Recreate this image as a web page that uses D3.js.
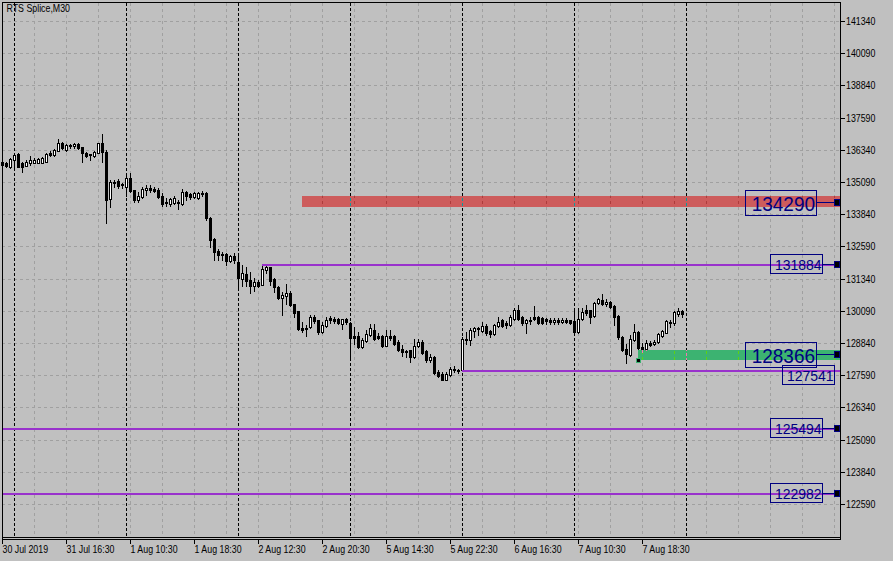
<!DOCTYPE html>
<html><head><meta charset="utf-8">
<script src="https://cdn.jsdelivr.net/npm/d3@7"></script>
<style>
html,body{margin:0;padding:0;background:#c0c0c0;overflow:hidden;}
svg{display:block;}
.ax{font-family:'Liberation Sans Narrow','Liberation Sans',Arial,sans-serif;font-size:11px;fill:#000;}
.lbl{font-family:'Liberation Sans',Arial,sans-serif;}
</style></head><body>
<svg id="c" width="893" height="561"></svg>
<script>
// ---------------- data ----------------
const chartTitle = "RTS Splice,M30";
const open = [135870,135830,135690,135950,136170,135840,135720,135820,135840,135840,135840,135880,136210,136140,136310,136590,136340,136530,136470,136570,136440,136230,136120,136080,136230,136600,136270,134420,135090,135130,135010,134910,135240,134770,134390,134500,134780,134850,134810,134780,134550,134330,134220,134260,134330,134220,134710,134620,134490,134460,134670,134670,133680,132860,132420,132290,132290,132030,132210,132000,131310,131520,131280,131050,131200,131100,131670,131780,131310,131020,130570,130660,130790,130350,130070,129440,129430,129470,129840,129720,129270,129490,129800,129760,129770,129590,129770,129630,129130,129130,128700,128920,129140,129350,129130,129130,128730,129130,129100,128880,128610,128530,128560,128290,128720,128870,128520,128170,128290,127710,127650,127420,127590,127850,127780,127780,129010,128970,129310,129440,129310,129490,129310,129180,129490,129720,129600,129530,129790,130110,129850,129620,129750,129850,129850,129800,129770,129750,129640,129750,129640,129750,129720,129700,129270,129790,130110,130110,129880,130400,130500,130370,130430,130270,129880,129080,128610,128360,128970,129270,128700,128590,128850,128820,128880,129100,129230,129660,129600,129960,130090];
const high = [135910,135870,136020,136230,136220,135870,135950,136080,136020,136040,136060,136220,136300,136370,136760,136650,136570,136570,136610,136620,136450,136260,136180,136300,136610,136960,136340,135170,135170,135200,135060,135360,135430,134780,134720,134880,134970,134970,134910,134850,134650,134460,134480,134550,134390,134810,134750,134670,134710,134700,134730,134700,133740,132910,132480,132380,132330,132250,132330,132320,131860,131780,131600,131350,131280,131880,131850,131790,131350,131050,130830,131120,130870,130370,130070,129660,129530,129920,129920,129750,129660,129850,129880,129850,129820,129790,129820,129660,129450,129280,129020,129340,129590,129590,129210,129140,129340,129340,129140,128950,128750,128560,128580,129010,129010,128950,128560,128430,128320,127780,127710,127710,127910,127930,127820,129070,129280,129420,129470,129470,129660,129590,129340,129590,129830,129790,129700,129920,130180,130310,129880,129790,129850,130270,129880,129850,129820,129820,129820,129820,129800,129800,129750,130180,130180,130180,130310,130140,130440,130570,130740,130530,130470,130310,129920,129110,128820,129140,129590,129310,128830,128950,128930,128950,129230,129360,129750,129730,130090,130180,130140];
const low = [135710,135670,135640,135620,135670,135490,135710,135750,135810,135810,135830,135850,136080,136100,136300,136370,136300,136410,136410,136370,135880,136060,135950,136060,136220,135880,133500,134120,134910,134850,134860,134550,134710,134330,134330,134460,134590,134720,134720,134460,134160,134160,134160,134230,134030,134200,134390,134420,134460,134430,134550,133610,132570,132060,132060,132080,131860,132000,131950,131030,131050,131050,130790,130860,131010,131090,131560,131090,130830,130530,129920,130370,130270,129850,129360,129270,129100,129440,129600,129180,129210,129470,129620,129620,129590,129400,129590,128170,128800,128630,128630,128860,129100,128970,129010,128690,128720,128950,128750,128530,128320,128290,128100,128270,128680,128430,128100,128100,127650,127520,127390,127390,127550,127710,127680,127760,128800,128760,129080,129160,129270,129160,129080,129160,129470,129470,129440,129490,129750,129750,129530,129230,129590,129750,129590,129590,129590,129590,129590,129590,129610,129610,129570,129200,129230,129750,129920,129620,129850,130370,130310,130270,130180,129530,129010,128530,128070,128320,128920,128590,128500,128560,128710,128750,128850,129070,129210,129470,129530,129880,129830];
const close = [135750,135710,135970,136140,135690,135690,135880,135950,135950,135990,136010,136170,136150,136340,136600,136410,136530,136480,136570,136400,136230,136100,136160,136270,136600,136250,134390,135100,135050,134940,134970,135240,134730,134390,134550,134810,134850,134780,134750,134520,134220,134270,134420,134460,134270,134710,134550,134490,134670,134650,134610,133680,132840,132380,132250,132240,132030,132210,132060,131350,131540,131250,131050,131200,131050,131700,131790,131250,131000,130570,130700,130790,130310,130010,129380,129340,129390,129860,129700,129270,129520,129750,129720,129700,129620,129760,129660,129050,129050,128670,128950,129180,129410,129010,129050,128720,129130,129050,128820,128580,128490,128510,128290,128730,128890,128450,128170,128290,127670,127540,127420,127650,127850,127780,127740,129010,128970,129340,129410,129380,129490,129210,129180,129530,129660,129490,129520,129830,130110,129790,129600,129720,129700,129780,129620,129620,129700,129640,129750,129640,129750,129660,129620,129270,129790,130050,130010,129850,130400,130530,130350,130430,130220,129850,129080,128560,128430,129010,129270,128630,128590,128850,128760,128880,129180,129310,129700,129600,130050,130090,129960];

const xTickBars   = [0,16,32,48,64,80,96,112,128,144,160];
const xTickLabels = ["30 Jul 2019","31 Jul 16:30","1 Aug 10:30","1 Aug 18:30","2 Aug 12:30","2 Aug 20:30","5 Aug 14:30","5 Aug 22:30","6 Aug 16:30","7 Aug 10:30","7 Aug 18:30"];
const daySeparatorBars = [3,31,59,87,115,143,171];
const gridEveryBars = 8;
const yTicks = [141340,140090,138840,137590,136340,135090,133840,132590,131340,130090,128840,127590,126340,125090,123840,122590];

// horizontal levels (trend-lines drawn from a bar to the right edge)
const lineStartBars = [65,115,0,0];
const linePrices    = [131884,127760,125494,122982];

// zones (rectangles drawn from a bar to the right edge)
const zoneStartBars = [75,159];
const zoneTop       = [134550,128570];
const zoneBottom    = [134120,128180];
const zoneColors    = ["#CD5C5C","#3CB371"];

// price labels on the right
const labelPrices = [134290,131884,128366,127541,125494,122982];
const labelBig    = [true,false,true,false,false,false];

// ---------------- drawing ----------------
const svg = d3.select("#c");
const BG = "#c0c0c0", GRID = "#a0a0a0", PURPLE = "#9932CC", NAVY = "#000080";
const P = {l:2, r:840, t:2, b:537};
const n = open.length;
const x = d3.scaleLinear().domain([0, n-1]).range([2, 2 + 4*(n-1)]);
const y = d3.scaleLinear().domain([122590,141340]).range([504,21]).interpolate(d3.interpolateRound);

svg.append("rect").attr("width",893).attr("height",561).attr("fill",BG);

function hex(c){const v=d3.rgb(c);return [v.r,v.g,v.b];}
function xorCol(c,k){const a=hex(c);return d3.rgb(a[0]^k[0],a[1]^k[1],a[2]^k[2]).formatHex();}

function drawBase(g, pal){
  g.attr("shape-rendering","crispEdges");
  // horizontal grid
  g.append("g").selectAll("line").data(yTicks).join("line")
    .attr("x1",P.l).attr("x2",P.r).attr("y1",d=>y(d)+0.5).attr("y2",d=>y(d)+0.5)
    .attr("stroke",pal.grid).attr("stroke-dasharray","3,3");
  // vertical grid
  const vb = d3.range(gridEveryBars, 8*27, gridEveryBars);
  g.append("g").selectAll("line").data(vb).join("line")
    .attr("x1",d=>x(d)+0.5).attr("x2",d=>x(d)+0.5).attr("y1",P.t+1).attr("y2",P.b)
    .attr("stroke",pal.grid).attr("stroke-dasharray","3,3");
  // day separators
  g.append("g").selectAll("line").data(daySeparatorBars).join("line")
    .attr("x1",d=>x(d)+0.5).attr("x2",d=>x(d)+0.5).attr("y1",P.t+1).attr("y2",P.b)
    .attr("stroke",pal.sep).attr("stroke-dasharray","3,2");
  // candles
  const idx = d3.range(n);
  g.append("g").selectAll("line").data(idx).join("line")
    .attr("x1",i=>x(i)+0.5).attr("x2",i=>x(i)+0.5)
    .attr("y1",i=>y(high[i])).attr("y2",i=>y(low[i])+1)
    .attr("stroke",pal.black);
  const bear = idx.filter(i=>close[i]<open[i] || y(close[i])===y(open[i]));
  const bull = idx.filter(i=>close[i]>=open[i] && y(close[i])!==y(open[i]));
  g.append("g").selectAll("rect").data(bear).join("rect")
    .attr("x",i=>x(i)-1).attr("width",3)
    .attr("y",i=>Math.min(y(open[i]),y(close[i])))
    .attr("height",i=>Math.abs(y(close[i])-y(open[i]))+1)
    .attr("fill",pal.black);
  g.append("g").selectAll("rect").data(bull).join("rect")
    .attr("x",i=>x(i)-0.5).attr("width",2)
    .attr("y",i=>y(close[i])+0.5)
    .attr("height",i=>y(open[i])-y(close[i]))
    .attr("fill",pal.white).attr("stroke",pal.black);
}

// normal layer
drawBase(svg.append("g"), {grid:GRID, sep:"#000", black:"#000", white:"#fff"});

// zones, drawn with MT4-style XOR blending against the layer beneath
const defs = svg.append("defs");
zoneStartBars.forEach((b,zi)=>{
  const k = hex(zoneColors[zi]).map((v,j)=>v ^ hex(BG)[j]);
  const zx = x(b), zy = y(zoneTop[zi]), zh = y(zoneBottom[zi]) - y(zoneTop[zi]);
  defs.append("clipPath").attr("id","zc"+zi).append("rect")
    .attr("x",zx).attr("y",zy).attr("width",P.r-zx).attr("height",zh);
  const g = svg.append("g").attr("clip-path",`url(#zc${zi})`);
  g.append("rect").attr("x",zx).attr("y",zy).attr("width",P.r-zx).attr("height",zh)
    .attr("fill",zoneColors[zi]);
  drawBase(g.append("g"), {grid:xorCol(GRID,k), sep:xorCol("#000",k), black:xorCol("#000",k), white:xorCol("#fff",k)});
});
// marker at the start of the second zone
svg.append("rect").attr("shape-rendering","crispEdges")
  .attr("x",x(zoneStartBars[1])-1.5).attr("y",y(zoneBottom[1])-1.5).attr("width",4).attr("height",4)
  .attr("fill","#000").attr("stroke",zoneColors[1]);

// purple level lines
svg.append("g").attr("shape-rendering","crispEdges").selectAll("line").data(linePrices).join("line")
  .attr("x1",(d,i)=>x(lineStartBars[i])).attr("x2",P.r)
  .attr("y1",d=>y(d)).attr("y2",d=>y(d))
  .attr("stroke",PURPLE).attr("stroke-width",2);

// frame
const fr = svg.append("g").attr("shape-rendering","crispEdges").attr("stroke","#000");
fr.append("line").attr("x1",P.l+0.5).attr("x2",P.l+0.5).attr("y1",P.t).attr("y2",P.b+3);
fr.append("line").attr("x1",P.l).attr("x2",P.r+1).attr("y1",P.t+0.5).attr("y2",P.t+0.5);
fr.append("line").attr("x1",P.r+0.5).attr("x2",P.r+0.5).attr("y1",P.t).attr("y2",P.b+3);
fr.append("line").attr("x1",P.l).attr("x2",P.r+1).attr("y1",P.b+0.5).attr("y2",P.b+0.5);
fr.append("line").attr("x1",P.l).attr("x2",P.r+1).attr("y1",P.b+2.5).attr("y2",P.b+2.5);

// axes
const yAxis = d3.axisRight(y).tickValues(yTicks).tickSize(4).tickPadding(1).tickFormat(d3.format("d"));
const gy = svg.append("g").attr("transform",`translate(${P.r+1},0)`).call(yAxis);
gy.select(".domain").remove();
gy.selectAll("line").attr("shape-rendering","crispEdges");
gy.selectAll("text").attr("class","ax").attr("font-family",null).attr("font-size",null).attr("dy","0.33em");

const xAxis = d3.axisBottom(x).tickValues(xTickBars).tickSize(4).tickPadding(1)
  .tickFormat((d,i)=>xTickLabels[i]);
const gx = svg.append("g").attr("transform",`translate(0,${P.b+3})`).call(xAxis);
gx.select(".domain").remove();
gx.selectAll("line").attr("shape-rendering","crispEdges");
gx.selectAll("text").attr("class","ax").attr("font-family",null).attr("font-size",null)
  .attr("text-anchor","start").attr("x",0);

svg.append("text").attr("class","ax").attr("x",6.5).attr("y",12).text(chartTitle);

// squeeze axis font if the narrow face is not present
const probe = svg.append("text").attr("class","ax").text("0000000000");
const dw = probe.node().getComputedTextLength()/10; probe.remove();
if (dw > 5.3) {
  svg.selectAll("text.ax").each(function(){
    const L = this.getComputedTextLength();
    d3.select(this).attr("textLength", L*4.9/dw).attr("lengthAdjust","spacingAndGlyphs");
  });
}

// price labels
const placed = [];
const lg = svg.append("g");
labelPrices.forEach((p,i)=>{
  const yp = y(p);
  const big = labelBig[i];
  const w = big ? 71 : 52, h = big ? 25 : 19;
  let bx = big ? 745.5 : 770.5;
  const top = yp - (big ? 12.5 : 10.5);
  const overlap = placed.some(b => top < b.bottom && top + h > b.top);
  if (overlap) bx += 12;
  placed.push({top:top, bottom:top+h});
  if (!overlap) {
    lg.append("line").attr("shape-rendering","crispEdges")
      .attr("x1",bx+w).attr("x2",834).attr("y1",yp-0.5).attr("y2",yp-0.5).attr("stroke",NAVY);
    lg.append("rect").attr("shape-rendering","crispEdges")
      .attr("x",834.5).attr("y",yp-3.5).attr("width",5).attr("height",6)
      .attr("fill","#000").attr("stroke",NAVY);
  }
  lg.append("rect").attr("shape-rendering","crispEdges")
    .attr("x",bx).attr("y",top).attr("width",w).attr("height",h)
    .attr("fill","none").attr("stroke",NAVY);
  lg.append("text").attr("class","lbl")
    .attr("x", bx + (big ? 6.2 : 4.4)).attr("y", yp + (big ? 7.5 : 5.3))
    .attr("font-size", big ? 21 : 14.5).attr("fill",NAVY)
    .attr("textLength", big ? 63.3 : 46.7).attr("lengthAdjust","spacingAndGlyphs")
    .text(String(p));
});
</script>
</body></html>
